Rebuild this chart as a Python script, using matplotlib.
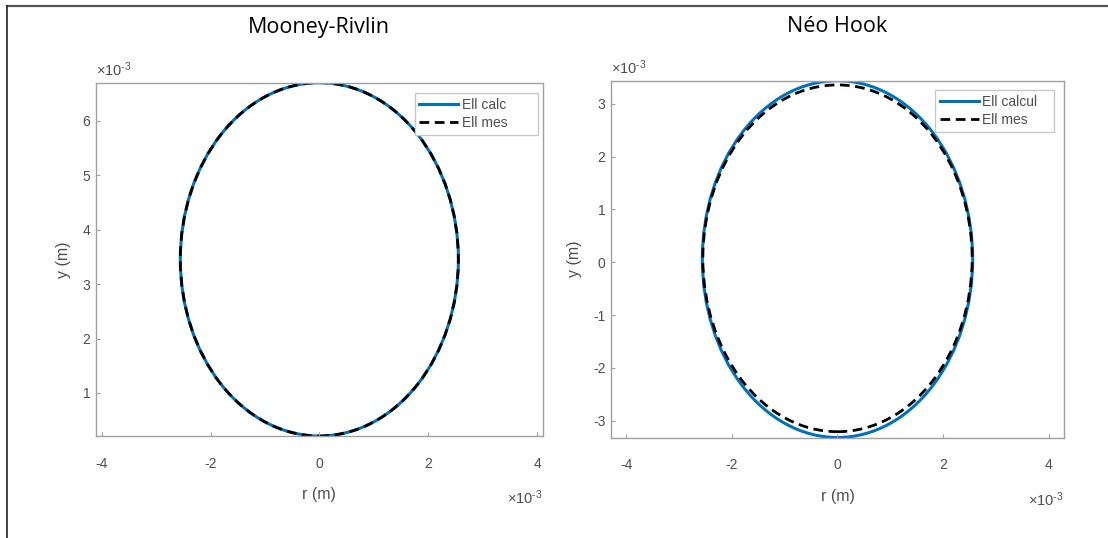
import matplotlib
matplotlib.use("Agg")
import matplotlib.pyplot as plt
from matplotlib.patches import Ellipse
from matplotlib.lines import Line2D
from matplotlib.ticker import FuncFormatter

plt.rcParams['axes.unicode_minus'] = False
plt.rcParams['font.family'] = ['Liberation Sans', 'DejaVu Sans']
plt.rcParams['mathtext.fontset'] = 'custom'
plt.rcParams['mathtext.rm'] = 'Liberation Sans'
plt.rcParams['mathtext.it'] = 'Liberation Sans:italic'
plt.rcParams['mathtext.bf'] = 'Liberation Sans:bold'

# ---- data (metres) ----
titles = ["Mooney-Rivlin", "Néo Hook"]
legend_calc = ["Ell calc", "Ell calcul"]
legend_mes = ["Ell mes", "Ell mes"]

# ellipse parameters: centre x, centre y, semi-axis r, semi-axis y
mr_calc = [0.0, 3.455e-3, 2.555e-3, 3.245e-3]
mr_mes = [0.0, 3.455e-3, 2.555e-3, 3.245e-3]
nh_calc = [0.0, 0.06e-3, 2.56e-3, 3.38e-3]
nh_mes = [0.0, 0.075e-3, 2.55e-3, 3.285e-3]

x_ticks = [-4e-3, -2e-3, 0, 2e-3, 4e-3]
mr_yticks = [1e-3, 2e-3, 3e-3, 4e-3, 5e-3, 6e-3]
nh_yticks = [-3e-3, -2e-3, -1e-3, 0, 1e-3, 2e-3, 3e-3]

mr_xlim = (-4.11e-3, 4.11e-3)
mr_ylim = (0.21e-3, 6.70e-3)
nh_xlim = (-4.29e-3, 4.29e-3)
nh_ylim = (-3.32e-3, 3.44e-3)

scale_label = r"×10$^{\text{-3}}$"

BLUE = '#0072BD'
GRAY_TXT = '#4d4d4d'
SPINE = '#a0a0a0'
DASH = (0, (3.5, 2.0))

fig = plt.figure(figsize=(11.08, 5.38), dpi=100)

# outer frame (top and left lines)
fig.add_artist(Line2D([7/1108, 1.0], [1-6/538, 1-6/538], transform=fig.transFigure,
                      color='#555555', lw=1.6))
fig.add_artist(Line2D([7/1108, 7/1108], [0, 1-6/538], transform=fig.transFigure,
                      color='#222222', lw=1.2))

axes_pos = [
    [95.7/1108, 1-436/538, (543-95.7)/1108, (436-82.7)/538],
    [611/1108, 1-437.5/538, (1064-611)/1108, (437.5-80.7)/538],
]
legend_anchor = [
    ((538-95.7)/(543-95.7), 1-(93-82.7)/(436-82.7)),
    ((1054-611)/(1064-611), 1-(90-80.7)/(437.5-80.7)),
]
legend_pad = [" " * 7, " " * 3]
configs = [
    (mr_calc, mr_mes, mr_xlim, mr_ylim, mr_yticks),
    (nh_calc, nh_mes, nh_xlim, nh_ylim, nh_yticks),
]

fmt = FuncFormatter(lambda v, p: "%g" % round(v * 1e3, 6))

for i, (pos, (calc, mes, xl, yl, yt)) in enumerate(zip(axes_pos, configs)):
    ax = fig.add_axes(pos)
    e1 = Ellipse((calc[0], calc[1]), 2*calc[2], 2*calc[3], fill=False,
                 edgecolor=BLUE, lw=2.2)
    e2 = Ellipse((mes[0], mes[1]), 2*mes[2], 2*mes[3], fill=False,
                 edgecolor='black', lw=2.0, linestyle=DASH)
    ax.add_patch(e1)
    ax.add_patch(e2)
    ax.set_xlim(*xl)
    ax.set_ylim(*yl)
    ax.set_xticks(x_ticks)
    ax.set_yticks(yt)
    ax.xaxis.set_major_formatter(fmt)
    ax.yaxis.set_major_formatter(fmt)
    ax.tick_params(direction='in', length=3, colors=SPINE, labelcolor=GRAY_TXT,
                   labelsize=10)
    ax.tick_params(axis='x', pad=15)
    ax.tick_params(axis='y', pad=4)
    for s in ax.spines.values():
        s.set_color(SPINE)
        s.set_linewidth(1.0)
    ax.set_xlabel('r (m)', color=GRAY_TXT, fontsize=11.5, labelpad=12)
    ax.set_ylabel('y (m)', color=GRAY_TXT, fontsize=11.5, labelpad=8)
    h = pos[3] * 538
    ax.text(1.0, -62/h, scale_label, transform=ax.transAxes, ha='right',
            va='center', fontsize=10.5, color=GRAY_TXT)
    ax.text(0.0, 1 + 13/h, scale_label, transform=ax.transAxes, ha='left',
            va='center', fontsize=10.5, color=GRAY_TXT)
    handles = [Line2D([], [], color=BLUE, lw=2.2),
               Line2D([], [], color='black', lw=2.0, linestyle=DASH)]
    labels = [legend_calc[i] + legend_pad[i], legend_mes[i]]
    leg = ax.legend(handles, labels, loc='upper right',
                    fontsize=10, handlelength=2.8, handletextpad=0.25,
                    borderpad=0.35, labelspacing=0.3, fancybox=False,
                    framealpha=1, edgecolor='#c8c8c8', borderaxespad=0,
                    bbox_to_anchor=legend_anchor[i])
    for t in leg.get_texts():
        t.set_color(GRAY_TXT)
    cx = pos[0] + pos[2]/2
    fig.text(cx, 1-27/538, titles[i], ha='center', va='center', fontsize=15.5,
             family=['Open Sans', 'DejaVu Sans'], color='black')

fig.savefig('out.png', dpi=100, facecolor='white')
